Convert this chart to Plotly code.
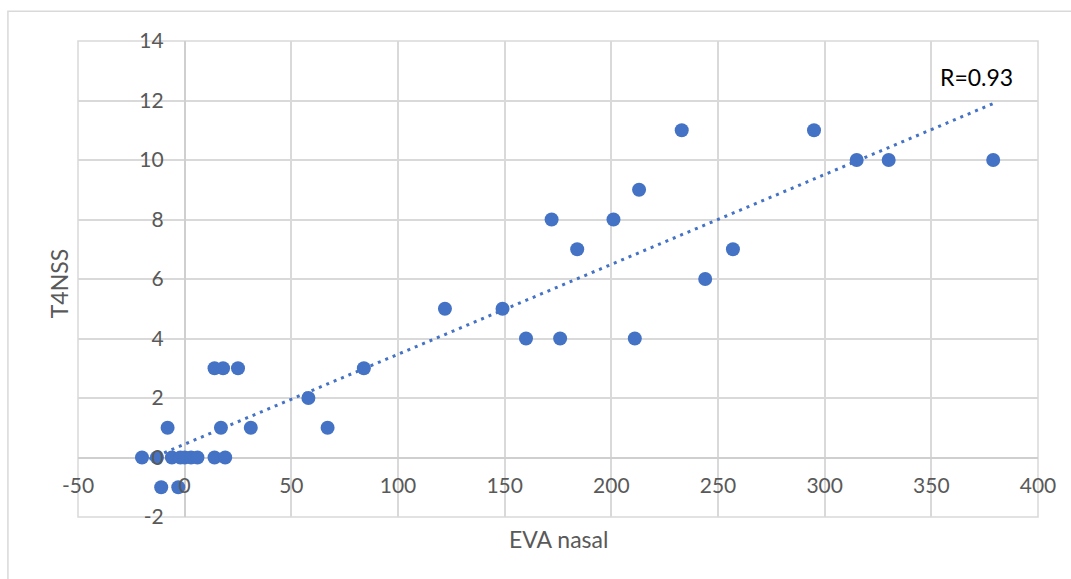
import numpy as np
import plotly.graph_objects as go

# EVA nasal score vs T4NSS, one point per subject
eva_nasal = [-20, -13, -6, -2, 0, 3, 6, 14, 19,
             -11, -3,
             -8, 17, 31, 67,
             58,
             14, 18, 25, 84,
             160, 176, 211,
             122, 149,
             244,
             184, 257,
             172, 201,
             213,
             315, 330, 379,
             233, 295]
t4nss = [0, 0, 0, 0, 0, 0, 0, 0, 0,
         -1, -1,
         1, 1, 1, 1,
         2,
         3, 3, 3, 3,
         4, 4, 4,
         5, 5,
         6,
         7, 7,
         8, 8,
         9,
         10, 10, 10,
         11, 11]

x_ticks = [-50, 0, 50, 100, 150, 200, 250, 300, 350, 400]
y_ticks = [-2, 0, 2, 4, 6, 8, 10, 12, 14]
x_range = [-50, 400]
y_range = [-2, 14]
r_label = "R=0.93"

BLUE = "#4472C4"
GRID = "#d9d9d9"
TEXT = "#595959"
FONT = "Lato, 'Open Sans', sans-serif"

# least-squares trend line over the observed range
x_arr = np.array(eva_nasal, dtype=float)
y_arr = np.array(t4nss, dtype=float)
slope, intercept = np.polyfit(x_arr, y_arr, 1)
trend_x = np.array([x_arr.min(), x_arr.max()])
trend_y = slope * trend_x + intercept

fig = go.Figure()

fig.add_trace(go.Scatter(
    x=trend_x, y=trend_y, mode="lines",
    line=dict(color=BLUE, width=3, dash="3px,5px"),
    hoverinfo="skip", showlegend=False,
))

fig.add_trace(go.Scatter(
    x=eva_nasal, y=t4nss, mode="markers",
    marker=dict(color=BLUE, size=14, line=dict(width=0)),
    showlegend=False,
))

# axes cross at the origin, as in a spreadsheet chart
x_cross = (0 - y_range[0]) / (y_range[1] - y_range[0])
y_cross = (0 - x_range[0]) / (x_range[1] - x_range[0])

fig.update_xaxes(
    range=x_range, tickvals=x_ticks, ticktext=[str(v) for v in x_ticks],
    anchor="free", position=x_cross, side="bottom",
    showgrid=True, gridcolor=GRID, gridwidth=1.5,
    zeroline=True, zerolinecolor="#cfcfcf", zerolinewidth=1.5,
    showline=False, ticks="", ticklabelstandoff=13,
    tickfont=dict(family=FONT, size=21, color=TEXT),
    automargin=False,
)
fig.update_yaxes(
    range=y_range, tickvals=y_ticks, ticktext=[str(v) for v in y_ticks],
    anchor="free", position=y_cross, side="left",
    showgrid=True, gridcolor=GRID, gridwidth=1.5,
    zeroline=True, zerolinecolor="#cfcfcf", zerolinewidth=1.5,
    showline=False, ticks="", ticklabelstandoff=21,
    tickfont=dict(family=FONT, size=21, color=TEXT),
    automargin=False,
)

fig.update_layout(
    width=1071, height=579,
    margin=dict(l=78, r=33, t=41, b=62, pad=0),
    paper_bgcolor="white", plot_bgcolor="white",
    showlegend=False,
    shapes=[
        # plot-area frame
        dict(type="rect", xref="paper", yref="paper", x0=0, x1=1, y0=0, y1=1,
             line=dict(color=GRID, width=1.5), layer="below"),
        # chart border
        dict(type="rect", xref="paper", yref="paper", x0=-0.073, x1=1.2,
             y0=-0.3, y1=1.0624, line=dict(color=GRID, width=1.5), layer="below"),
    ],
    annotations=[
        dict(text=r_label, x=353, y=12.8, xref="x", yref="y",
             xanchor="left", yanchor="middle", showarrow=False,
             font=dict(family=FONT, size=23, color="black")),
        dict(text="T4NSS", x=-0.0203, y=0.49, xref="paper", yref="paper",
             xanchor="center", yanchor="middle", textangle=-90, showarrow=False,
             font=dict(family=FONT, size=23, color=TEXT)),
        dict(text="EVA nasal", x=0.5, y=-0.047, xref="paper", yref="paper",
             xanchor="center", yanchor="middle", showarrow=False,
             font=dict(family=FONT, size=23, color=TEXT)),
    ],
)

fig.write_html("out.html")
